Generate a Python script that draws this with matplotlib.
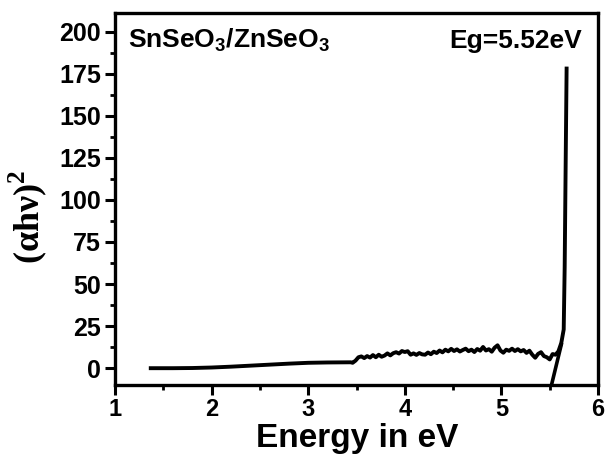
import matplotlib
matplotlib.use("Agg")
import matplotlib.pyplot as plt
from matplotlib.ticker import MultipleLocator

# (alpha h nu)^2 vs photon energy
energy = [
    1.37, 1.6, 1.8, 2.0, 2.2, 2.4, 2.6, 2.8, 3.0, 3.2, 3.44,
    3.46, 3.49, 3.52, 3.55, 3.58, 3.61, 3.64, 3.67, 3.70, 3.73,
    3.76, 3.79, 3.82, 3.85, 3.88, 3.91, 3.94, 3.97, 4.00, 4.03,
    4.06, 4.09, 4.12, 4.15, 4.18, 4.21, 4.24, 4.27, 4.30, 4.33,
    4.36, 4.39, 4.42, 4.45, 4.48, 4.51, 4.54, 4.57, 4.60, 4.63,
    4.66, 4.69, 4.72, 4.75, 4.78, 4.81, 4.84, 4.87, 4.90, 4.93,
    4.96, 4.99, 5.02, 5.05, 5.08, 5.11, 5.14, 5.17, 5.20, 5.23,
    5.26, 5.29, 5.32, 5.35, 5.38, 5.41, 5.44, 5.47, 5.50, 5.53,
    5.56, 5.59, 5.62, 5.645, 5.655, 5.665, 5.675,
]
ahv_sq = [
    0.0, 0.0, 0.1, 0.4, 0.9, 1.5, 2.1, 2.7, 3.2, 3.4, 3.5,
    3.2, 4.5, 6.5, 7.0, 6.0, 7.2, 6.3, 7.8, 6.5, 8.0,
    6.8, 7.5, 8.8, 7.6, 8.9, 9.5, 8.7, 10.2, 9.6, 10.1,
    8.0, 8.8, 7.9, 9.0, 8.2, 8.0, 9.3, 8.3, 9.8, 9.0,
    10.5, 9.4, 11.0, 10.0, 11.5, 10.2, 11.2, 9.9, 10.8, 11.6,
    10.1, 11.0, 9.6, 11.4, 10.4, 12.6, 10.5, 11.3, 9.8, 12.2,
    13.6, 10.5, 9.2, 11.0, 10.3, 11.6, 10.2, 11.3, 10.0, 10.8,
    9.1, 10.4, 8.0, 6.2, 8.5, 9.5, 7.2, 6.5, 5.2, 8.4,
    8.0, 10.0, 15.0, 23.0, 60.0, 120.0, 178.0,
]

# linear fit extrapolated down to the energy axis (Eg)
tangent_x = [5.51, 5.62]
tangent_y = [-12.0, 14.0]

sans = "Liberation Sans"

fig = plt.figure(figsize=(6.06, 4.55), dpi=100)
ax = fig.add_axes([0.1898, 0.1538, 0.797, 0.8176])

ax.plot(energy, ahv_sq, color="black", linewidth=2.8)
ax.plot(tangent_x, tangent_y, color="black", linewidth=2.6)

ax.set_xlim(1, 6)
ax.set_ylim(-10, 211)
ax.xaxis.set_major_locator(MultipleLocator(1))
ax.xaxis.set_minor_locator(MultipleLocator(0.5))
ax.yaxis.set_major_locator(MultipleLocator(25))
ax.yaxis.set_minor_locator(MultipleLocator(12.5))

for s in ax.spines.values():
    s.set_linewidth(2.4)
ax.tick_params(which="major", direction="out", length=7, width=2.2)
ax.tick_params(which="minor", direction="out", length=3.5, width=2.0)
ax.tick_params(axis="x", pad=2)
ax.tick_params(axis="y", pad=3)

for lab in ax.get_xticklabels():
    lab.set_fontfamily(sans)
    lab.set_fontweight("bold")
    lab.set_fontsize(17)
for lab in ax.get_yticklabels():
    lab.set_fontfamily(sans)
    lab.set_fontweight("bold")
    lab.set_fontsize(18)

ax.text(0.027, 0.906, r"SnSeO$_{\mathregular{3}}$/ZnSeO$_{\mathregular{3}}$",
        transform=ax.transAxes, ha="left", va="baseline",
        fontsize=19, fontweight="bold", family=sans)
ax.text(0.967, 0.906, "Eg=5.52eV", transform=ax.transAxes,
        ha="right", va="baseline", fontsize=19, fontweight="bold", family=sans)

fig.text(0.589, 0.017, "Energy in eV", ha="center", va="baseline",
         fontsize=24, fontweight="bold", family=sans)
fig.text(28 / 606, 1 - 217 / 455, r"(αhν)$^{\mathregular{2}}$", rotation=90,
         ha="center", va="center", fontsize=26, fontweight="bold",
         family="Liberation Serif")

fig.savefig("out.png", dpi=100)
